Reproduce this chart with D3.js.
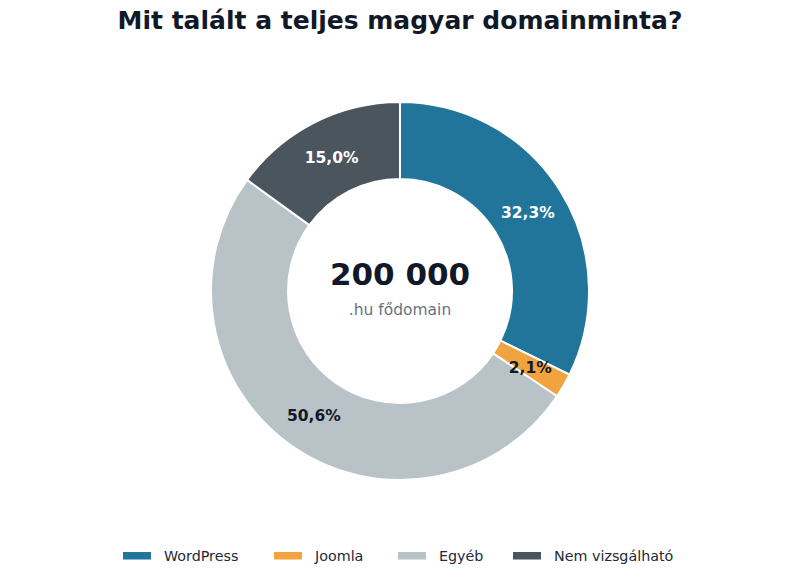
<!DOCTYPE html>
<html>
<head>
<meta charset="utf-8">
<script src="https://cdn.jsdelivr.net/npm/d3@7"></script>
<style>
  body { margin: 0; background: #fff; }
  svg { font-family: "DejaVu Sans", sans-serif; }
</style>
</head>
<body>
<div id="chart"></div>
<script>
// Categories and their shares (percent) of the .hu sample
const categories = ["WordPress", "Joomla", "Egyéb", "Nem vizsgálható"];
const shares = [32.3, 2.1, 50.6, 15.0];
const labels = ["32,3%", "2,1%", "50,6%", "15,0%"];
const colours = ["#21759b", "#f0a33f", "#b9c2c6", "#4b555d"];
const labelColours = ["#ffffff", "#111827", "#111827", "#ffffff"];

const totalText = "200 000";
const totalSub = ".hu fődomain";

const width = 800;
const height = 580;
const cx = 400;
const cy = 291;
const outerR = 189;
const innerR = 112;

const data = categories.map((c, i) => ({ category: c, value: shares[i], label: labels[i] }));

const svg = d3.select("#chart").append("svg")
    .attr("width", width)
    .attr("height", height);

// Title
svg.append("text")
    .attr("x", width / 2)
    .attr("y", 29)
    .attr("text-anchor", "middle")
    .attr("font-size", 25)
    .attr("font-weight", "bold")
    .attr("fill", "#111827")
    .text("Mit talált a teljes magyar domainminta?");

const colour = d3.scaleOrdinal().domain(categories).range(colours);
const labelColour = d3.scaleOrdinal().domain(categories).range(labelColours);

const pie = d3.pie().sort(null).value(d => d.value);
const arc = d3.arc().innerRadius(innerR).outerRadius(outerR);
const labelArc = d3.arc().innerRadius((innerR + outerR) / 2).outerRadius((innerR + outerR) / 2);

const g = svg.append("g").attr("transform", `translate(${cx},${cy})`);

const arcs = pie(data);

g.selectAll("path")
    .data(arcs)
    .join("path")
    .attr("d", arc)
    .attr("fill", d => colour(d.data.category))
    .attr("stroke", "#fff")
    .attr("stroke-width", 2);

g.selectAll("text.slice")
    .data(arcs)
    .join("text")
    .attr("class", "slice")
    .attr("transform", d => `translate(${labelArc.centroid(d)})`)
    .attr("text-anchor", "middle")
    .attr("dy", "0.42em")
    .attr("font-size", 15.5)
    .attr("font-weight", "bold")
    .attr("fill", d => labelColour(d.data.category))
    .text(d => d.data.label);

// Centre text
g.append("text")
    .attr("y", -6)
    .attr("text-anchor", "middle")
    .attr("font-size", 31)
    .attr("font-weight", "bold")
    .attr("fill", "#111827")
    .text(totalText);

g.append("text")
    .attr("y", 24)
    .attr("text-anchor", "middle")
    .attr("font-size", 15.5)
    .attr("fill", "#6b7280")
    .text(totalSub);

// Legend
const legendX = [123, 274, 398, 513];
const legend = svg.append("g").attr("transform", "translate(0,556)");
const item = legend.selectAll("g")
    .data(categories)
    .join("g")
    .attr("transform", (d, i) => `translate(${legendX[i]},0)`);

item.append("rect")
    .attr("x", 0)
    .attr("y", -4)
    .attr("width", 28)
    .attr("height", 7.5)
    .attr("fill", d => colour(d));

item.append("text")
    .attr("x", 41)
    .attr("dy", "0.35em")
    .attr("font-size", 14.3)
    .attr("fill", "#1f2937")
    .text(d => d);
</script>
</body>
</html>
